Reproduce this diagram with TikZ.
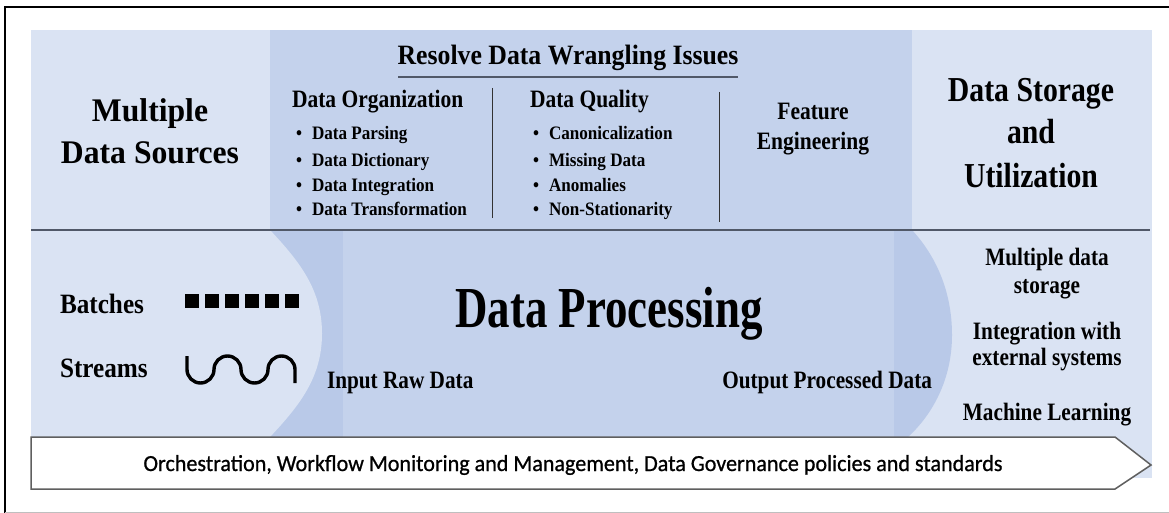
\documentclass[tikz,border=0pt]{standalone}
\usepackage{fontspec}
\setmainfont{Liberation Serif}
\newfontfamily\arrowfont[FakeBold=0.8]{Carlito}
\usepackage{graphicx}
\definecolor{lightbg}{RGB}{218,227,243}
\definecolor{midbg}{RGB}{196,210,236}
\definecolor{bandbg}{RGB}{185,201,232}
\definecolor{rulecol}{RGB}{80,88,104}
\definecolor{arrowcol}{RGB}{95,95,95}
\newcommand{\sqz}[3]{\scalebox{#1}[1]{\fontsize{#2}{#2}\selectfont\bfseries #3}}
\begin{document}
\begin{tikzpicture}[x=1pt,y=-1pt,
  tx/.style={inner sep=0pt, outer sep=0pt, anchor=base},
  txw/.style={inner sep=0pt, outer sep=0pt, anchor=base west},
  txe/.style={inner sep=0pt, outer sep=0pt, anchor=base east},
  sepline/.style={draw=black!80, line width=0.9pt},
  batchsq/.style={fill=black, draw=none}]
\useasboundingbox (0,0) rectangle (1169,513);
% outer frame
\draw[line width=1.2pt, black] (5,513) -- (5,7) -- (1169,7);
\draw[line width=0.8pt, black!25] (5,512) -- (1169,512);
% backgrounds
\fill[lightbg] (31,30) rectangle (270,437);
\fill[midbg] (270,30) rectangle (912,230);
\fill[lightbg] (912,30) rectangle (1152,478);
\fill[lightbg] (270,230) rectangle (912,437);
\fill[bandbg] (250,230) -- (912,230) .. controls (935,255) and (952,290) .. (952,335)
   .. controls (952,380) and (932,415) .. (908,437) -- (250,437) -- cycle;
\fill[midbg] (343,230) rectangle (894,437);
\fill[lightbg] (31,230) -- (270,230) .. controls (300,262) and (322,290) .. (322,333.5)
   .. controls (322,377) and (300,405) .. (270,437) -- (31,437) -- cycle;
% divider
\draw[rulecol, line width=2pt] (31,230) -- (1150,230);
% arrow
\draw[arrowcol, line width=1.5pt, fill=white, line join=miter]
  (31,437) -- (1115,437) -- (1151,465) -- (1115,489) -- (31,489) -- cycle;
% top left
\node[tx] (ms1) at (150,122) {\sqz{0.96}{33}{Multiple}};
\node[tx] (ms2) at (150,164) {\sqz{0.96}{33}{Data Sources}};
% wrangling
\node[tx] (rw) at (568,65) {\sqz{0.92}{28}{Resolve Data Wrangling Issues}};
\coordinate (ulA) at (398,77);
\coordinate (ulB) at (738,77);
\draw[rulecol, line width=1.8pt] (ulA) -- (ulB);
\node[txw] (dorg) at (292,108) {\sqz{0.86}{25}{Data Organization}};
\node[txw] (dq) at (530,108) {\sqz{0.86}{25}{Data Quality}};
\foreach \y/\t [count=\i] in {140/Data Parsing,167/Data Dictionary,192/Data Integration,215/Data Transformation}{
  \node[tx] (ob\i) at (299,\y) {\sqz{0.9}{19}{•}};
  \node[txw] (o\i) at (312,\y) {\sqz{0.9}{19}{\t}};
}
\foreach \y/\t [count=\i] in {140/Canonicalization,167/Missing Data,192/Anomalies,215/Non-Stationarity}{
  \node[tx] (qb\i) at (536,\y) {\sqz{0.9}{19}{•}};
  \node[txw] (q\i) at (549,\y) {\sqz{0.9}{19}{\t}};
}
\coordinate (s1a) at (492,88); \coordinate (s1b) at (492,218);
\coordinate (s2a) at (719,92); \coordinate (s2b) at (719,222);
\draw[sepline] (s1a) -- (s1b);
\draw[sepline] (s2a) -- (s2b);
\node[tx] (fe1) at (813,120) {\sqz{0.86}{25}{Feature}};
\node[tx] (fe2) at (813,150) {\sqz{0.86}{25}{Engineering}};
% top right
\node[tx] (ds1) at (1031,102) {\sqz{0.85}{35}{Data Storage}};
\node[tx] (ds2) at (1031,144) {\sqz{0.85}{35}{and}};
\node[tx] (ds3) at (1031,187) {\sqz{0.85}{35}{Utilization}};
% bottom left
\node[txw] (bat) at (60,313) {\sqz{0.9}{28}{Batches}};
\node[txw] (str) at (60,377) {\sqz{0.9}{28}{Streams}};
\foreach \i in {0,...,5}{
  \fill[batchsq] (185+20*\i,294) rectangle (198.5+20*\i,308);
}
\draw[black, line width=3.4pt]
  (187,356) -- (187,369.5)
  .. controls (187,376.96) and (193.04,383) .. (200.5,383)
  .. controls (207.96,383) and (214,376.96) .. (214,369.5)
  .. controls (214,362.04) and (220.04,356) .. (227.5,356)
  .. controls (234.96,356) and (241,362.04) .. (241,369.5)
  .. controls (241,376.96) and (247.04,383) .. (254.5,383)
  .. controls (261.96,383) and (268,376.96) .. (268,369.5)
  .. controls (268,362.04) and (274.04,356) .. (281.5,356)
  .. controls (288.96,356) and (295,362.04) .. (295,369.5)
  -- (295,383);
% middle bottom
\node[tx] (dp) at (609,327) {\sqz{0.774}{58}{Data Processing}};
\node[txw] (ird) at (327,388) {\sqz{0.85}{25}{Input Raw Data}};
\node[txe] (opd) at (932,388) {\sqz{0.85}{25}{Output Processed Data}};
% bottom right
\node[tx] (r1) at (1047,265) {\sqz{0.85}{25}{Multiple data}};
\node[tx] (r2) at (1047,293) {\sqz{0.85}{25}{storage}};
\node[tx] (r3) at (1047,339) {\sqz{0.85}{25}{Integration with}};
\node[tx] (r4) at (1047,365) {\sqz{0.85}{25}{external systems}};
\node[tx] (r5) at (1047,420) {\sqz{0.85}{25}{Machine Learning}};
% arrow text
\node[tx] (orch) at (573,471) {\scalebox{0.96}[1]{\arrowfont\fontsize{23}{23}\selectfont Orchestration, Workflow Monitoring and Management, Data Governance policies and standards}};
\end{tikzpicture}
\end{document}
